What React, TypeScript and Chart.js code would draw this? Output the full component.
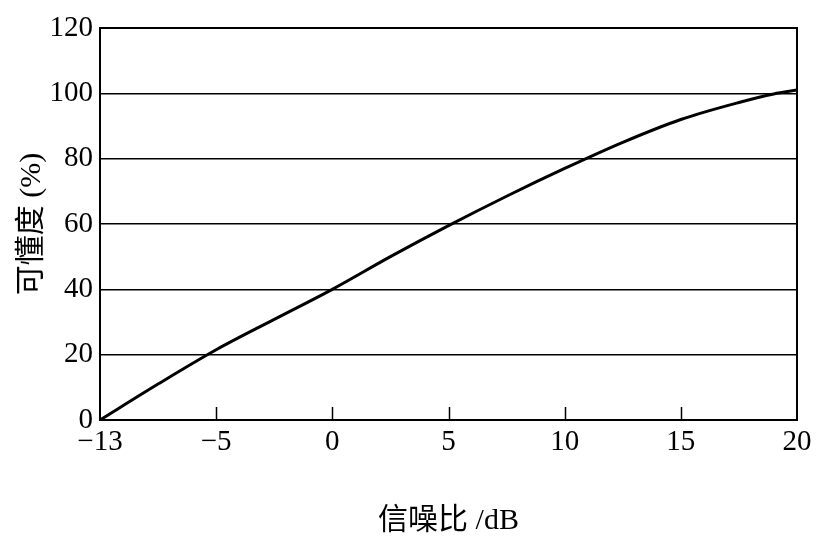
import React, { useEffect, useRef } from "react";
import { Chart, registerables } from "chart.js";

Chart.register(...registerables);

// Signal-to-noise ratio (dB) and intelligibility (%)
const SNR_DB = [-13, -9, -5, -2.5, 0, 2.5, 5, 7.5, 10, 12.5, 15, 17.5, 19, 20];
const INTELLIGIBILITY = [0, 11, 21.5, 30.8, 40, 50, 59.5, 68.5, 77, 85, 92, 97.2, 99.8, 101];

const X_TICK_DB = [-13, -5, 0, 5, 10, 15, 20];
const X_TICK_LABELS = ["\u221213", "\u22125", "0", "5", "10", "15", "20"];
const Y_TICKS = [0, 20, 40, 60, 80, 100, 120];

const X_TITLE = "信噪比 /dB";
const Y_TITLE = "可懂度 (%)";

// The original axis places -13 where -10 would be (even tick spacing)
const toAxis = (db: number) => (db < -5 ? -10 + ((db + 13) * 5) / 8 : db);

const SERIF = '"Liberation Serif", "Times New Roman", serif';
const TITLE_FONT = '"Liberation Serif", "Noto Sans CJK SC", serif';

export default function App() {
  const ref = useRef<HTMLCanvasElement | null>(null);

  useEffect(() => {
    document.body.style.margin = "0";
    const canvas = ref.current;
    if (!canvas) return;

    const frame = {
      id: "frame",
      beforeDatasetsDraw(chart: any) {
        const { ctx, chartArea } = chart;
        ctx.save();
        ctx.strokeStyle = "#000";
        ctx.lineWidth = 2;
        ctx.strokeRect(chartArea.left, chartArea.top, chartArea.right - chartArea.left, chartArea.bottom - chartArea.top);
        const xs = chart.scales.x;
        ctx.lineWidth = 1.5;
        X_TICK_DB.forEach((db) => {
          const v = toAxis(db);
          if (v <= xs.min || v >= xs.max) return;
          const px = Math.round(xs.getPixelForValue(v)) + 0.5;
          ctx.beginPath();
          ctx.moveTo(px, chartArea.bottom);
          ctx.lineTo(px, chartArea.bottom - 13);
          ctx.stroke();
        });
        ctx.restore();
      },
    };

    const chart = new Chart(canvas, {
      type: "line",
      data: {
        datasets: [
          {
            data: SNR_DB.map((d, i) => ({ x: toAxis(d), y: INTELLIGIBILITY[i] })),
            borderColor: "#000",
            borderWidth: 3,
            pointRadius: 0,
            cubicInterpolationMode: "monotone",
            fill: false,
          },
        ],
      },
      options: {
        animation: false,
        responsive: false,
        layout: { padding: { top: 28, right: 31, left: 0, bottom: 0 } },
        plugins: { legend: { display: false }, tooltip: { enabled: false } },
        scales: {
          x: {
            type: "linear",
            min: -10,
            max: 20,
            afterBuildTicks: (scale: any) => {
              scale.ticks = X_TICK_DB.map((d) => ({ value: toAxis(d) }));
            },
            afterFit: (scale: any) => {
              scale.height = 125;
            },
            ticks: {
              autoSkip: false,
              maxRotation: 0,
              padding: 5,
              color: "#000",
              font: { family: SERIF, size: 29 },
              callback: (v: any) => {
                const i = X_TICK_DB.findIndex((d) => Math.abs(toAxis(d) - v) < 1e-6);
                return i >= 0 ? X_TICK_LABELS[i] : "";
              },
            },
            grid: { display: false, drawTicks: false },
            border: { display: true, color: "#000", width: 2 },
            title: {
              display: true,
              text: X_TITLE,
              color: "#000",
              font: { family: TITLE_FONT, size: 30 },
              padding: { top: 0, bottom: 6 },
            },
          },
          y: {
            type: "linear",
            min: 0,
            max: 120,
            afterBuildTicks: (scale: any) => {
              scale.ticks = Y_TICKS.map((v) => ({ value: v }));
            },
            afterFit: (scale: any) => {
              scale.width = 100;
            },
            ticks: {
              padding: 7,
              color: "#000",
              font: { family: SERIF, size: 29 },
            },
            grid: {
              drawTicks: false,
              lineWidth: 1.5,
              color: (c: any) => (c.tick && (c.tick.value === 0 || c.tick.value === 120) ? "rgba(0,0,0,0)" : "#000"),
            },
            border: { display: true, color: "#000", width: 2 },
            title: {
              display: true,
              text: Y_TITLE,
              color: "#000",
              font: { family: TITLE_FONT, size: 30 },
              padding: { top: 14, bottom: 0 },
            },
          },
        },
      },
      plugins: [frame],
    } as any);

    return () => chart.destroy();
  }, []);

  return (
    <div style={{ width: 828, height: 545, background: "#fff" }}>
      <canvas ref={ref} width={828} height={545} style={{ display: "block" }} />
    </div>
  );
}
